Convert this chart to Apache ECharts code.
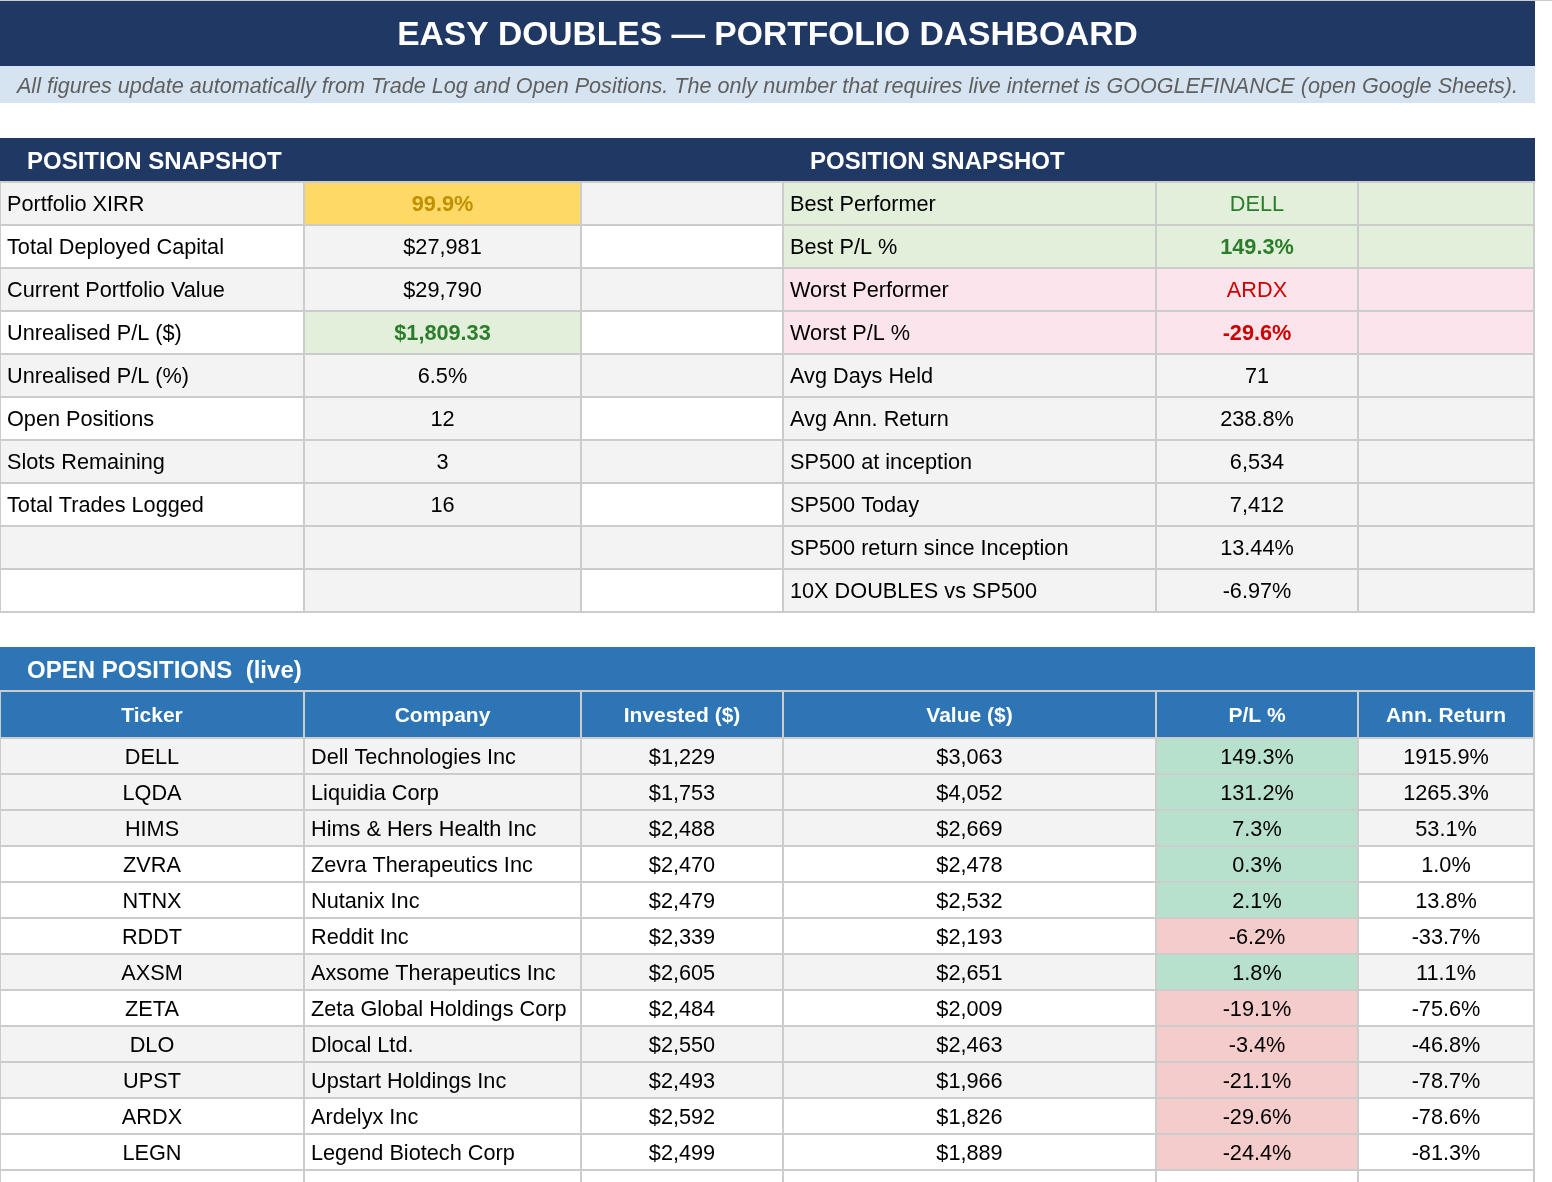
<!DOCTYPE html>
<html>
<head>
<meta charset="utf-8">
<script src="https://cdn.jsdelivr.net/npm/echarts@6/dist/echarts.min.js"></script>
<style>
html,body{margin:0;padding:0;background:#ffffff;}
#chart{width:1552px;height:1182px;}
</style>
</head>
<body>
<div id="chart"></div>
<script>
// ---------------- DATA ----------------
const pageTitle = 'EASY DOUBLES — PORTFOLIO DASHBOARD';
const pageNote = 'All figures update automatically from Trade Log and Open Positions. The only number that requires live internet is GOOGLEFINANCE (open Google Sheets).';
const snapshotTitleLeft = 'POSITION SNAPSHOT';
const snapshotTitleRight = 'POSITION SNAPSHOT';
const leftLabels = ['Portfolio XIRR', 'Total Deployed Capital', 'Current Portfolio Value', 'Unrealised P/L ($)', 'Unrealised P/L (%)', 'Open Positions', 'Slots Remaining', 'Total Trades Logged', '', ''];
const leftValues = ['99.9%', '$27,981', '$29,790', '$1,809.33', '6.5%', '12', '3', '16', '', ''];
const rightLabels = ['Best Performer', 'Best P/L %', 'Worst Performer', 'Worst P/L %', 'Avg Days Held', 'Avg Ann. Return', 'SP500 at inception', 'SP500 Today', 'SP500 return since Inception', '10X DOUBLES vs SP500'];
const rightValues = ['DELL', '149.3%', 'ARDX', '-29.6%', '71', '238.8%', '6,534', '7,412', '13.44%', '-6.97%'];
const openTitle = 'OPEN POSITIONS  (live)';
const openColumns = ['Ticker', 'Company', 'Invested ($)', 'Value ($)', 'P/L %', 'Ann. Return'];
const tickers = ['DELL', 'LQDA', 'HIMS', 'ZVRA', 'NTNX', 'RDDT', 'AXSM', 'ZETA', 'DLO', 'UPST', 'ARDX', 'LEGN'];
const companies = ['Dell Technologies Inc', 'Liquidia Corp', 'Hims & Hers Health Inc', 'Zevra Therapeutics Inc', 'Nutanix Inc', 'Reddit Inc', 'Axsome Therapeutics Inc', 'Zeta Global Holdings Corp', 'Dlocal Ltd.', 'Upstart Holdings Inc', 'Ardelyx Inc', 'Legend Biotech Corp'];
const invested = [1229, 1753, 2488, 2470, 2479, 2339, 2605, 2484, 2550, 2493, 2592, 2499];
const values = [3063, 4052, 2669, 2478, 2532, 2193, 2651, 2009, 2463, 1966, 1826, 1889];
const plPct = [149.3, 131.2, 7.3, 0.3, 2.1, -6.2, 1.8, -19.1, -3.4, -21.1, -29.6, -24.4];
const annReturn = [1915.9, 1265.3, 53.1, 1.0, 13.8, -33.7, 11.1, -75.6, -46.8, -78.7, -78.6, -81.3];

// ---------------- LAYOUT / STYLE ----------------
const W = 1552, H = 1182;
const FONT = '"Liberation Sans", Arial, Helvetica, sans-serif';
const NAVY = '#203864', BLUE = '#2e75b6', GRID = '#cccccc', GREY = '#f3f3f3', WHITE = '#ffffff';
const COLS = [0, 304, 581, 783, 1156, 1358, 1534];
const BAR_R = 1535;
const SNAP_TOP = 182, SNAP_H = 43;
const OPEN_TOP = 738, OPEN_H = 36;
const BODY_SIZE = 21.7;
const TEXT_DY = 2;
const openGreyRows = [true, true, true, false, false, false, true, false, true, true, false, false, false];
const leftValueFill = {0: '#ffd966', 3: '#e2efda'};
const leftValueColor = {0: '#bf9000', 3: '#2b7d2b'};
const rightRowFill = {0: '#e2efda', 1: '#e2efda', 2: '#fce4ec', 3: '#fce4ec'};
const rightValueColor = {0: '#2b7d2b', 1: '#2b7d2b', 2: '#cc0000', 3: '#cc0000'};
const boldValues = {left: [0, 3], right: [1, 3]};

const cells = [];
function cell(x0, y0, x1, y1, o) { cells.push(Object.assign({x0: x0, y0: y0, x1: x1, y1: y1}, o || {})); }
const fmtMoney = v => '$' + v.toLocaleString('en-US');
const fmtPct = v => v.toFixed(1) + '%';

// top hairline
cell(0, 0, W, 1, {fill: GRID});
// title & note
cell(0, 1, BAR_R, 66, {fill: NAVY, text: pageTitle, align: 'center', color: '#ffffff', size: 33.6, weight: 'bold'});
cell(0, 66, BAR_R, 103, {fill: '#d6e3f0', text: pageNote, align: 'center', color: '#5f5f5f', size: 21.6, italic: true});

// snapshot header
cell(0, 138, BAR_R, 182, {fill: NAVY});
cell(27, 138, 300, 182, {text: snapshotTitleLeft, align: 'left', pad: 0, color: '#ffffff', size: 24, weight: 'bold'});
cell(810, 138, 1150, 182, {text: snapshotTitleRight, align: 'left', pad: 0, color: '#ffffff', size: 24, weight: 'bold'});

// snapshot rows
for (let i = 0; i < leftLabels.length; i++) {
  const y0 = SNAP_TOP + SNAP_H * i, y1 = y0 + SNAP_H;
  const alt = i % 2 === 0 ? GREY : WHITE;
  cell(COLS[0], y0, COLS[1], y1, {fill: alt, stroke: true, text: leftLabels[i], align: 'left'});
  cell(COLS[1], y0, COLS[2], y1, {fill: leftValueFill[i] || GREY, stroke: true, text: leftValues[i], align: 'center',
    color: leftValueColor[i] || '#000000', weight: boldValues.left.indexOf(i) >= 0 ? 'bold' : 'normal'});
  cell(COLS[2], y0, COLS[3], y1, {fill: alt, stroke: true});
  const rf = rightRowFill[i] || GREY;
  cell(COLS[3], y0, COLS[4], y1, {fill: rf, stroke: true, text: rightLabels[i], align: 'left'});
  cell(COLS[4], y0, COLS[5], y1, {fill: rf, stroke: true, text: rightValues[i], align: 'center',
    color: rightValueColor[i] || '#000000', weight: boldValues.right.indexOf(i) >= 0 ? 'bold' : 'normal'});
  cell(COLS[5], y0, COLS[6], y1, {fill: rf, stroke: true});
}

// open positions header
cell(0, 647, BAR_R, 691, {fill: BLUE});
cell(27, 647, 400, 691, {text: openTitle, align: 'left', pad: 0, color: '#ffffff', size: 24, weight: 'bold'});
for (let c = 0; c < openColumns.length; c++) {
  cell(COLS[c], 691, COLS[c + 1], OPEN_TOP, {fill: BLUE, stroke: true, text: openColumns[c], align: 'center', color: '#ffffff', size: 21, weight: 'bold'});
}
for (let i = 0; i <= tickers.length; i++) {
  const y0 = OPEN_TOP + OPEN_H * i, y1 = y0 + OPEN_H;
  const bg = openGreyRows[i] ? GREY : WHITE;
  const has = i < tickers.length;
  const row = has ? [tickers[i], companies[i], fmtMoney(invested[i]), fmtMoney(values[i]), fmtPct(plPct[i]), fmtPct(annReturn[i])] : ['', '', '', '', '', ''];
  for (let c = 0; c < 6; c++) {
    let fill = bg;
    if (c === 4 && has) fill = plPct[i] >= 0 ? '#b7e1cd' : '#f4cccc';
    cell(COLS[c], y0, COLS[c + 1], y1, {fill: fill, stroke: true, text: row[c], align: c === 1 ? 'left' : 'center'});
  }
}

// ---------------- RENDER ----------------
const chart = echarts.init(document.getElementById('chart'), null, {renderer: 'canvas'});
const seriesData = cells.map(c => [c.x0, c.y0, c.x1, c.y1]);

function rectOf(api, c) {
  const p0 = api.coord([c.x0, c.y0]);
  const p1 = api.coord([c.x1, c.y1]);
  return {x: Math.min(p0[0], p1[0]), y: Math.min(p0[1], p1[1]), width: Math.abs(p1[0] - p0[0]), height: Math.abs(p1[1] - p0[1])};
}

chart.setOption({
  animation: false,
  backgroundColor: '#ffffff',
  grid: {left: 0, right: 0, top: 0, bottom: 0, containLabel: false},
  xAxis: {type: 'value', min: 0, max: W, show: false},
  yAxis: {type: 'value', min: 0, max: H, inverse: true, show: false},
  series: [
    {
      type: 'custom', clip: false, silent: true, z: 1,
      data: seriesData,
      encode: {x: [0, 2], y: [1, 3]},
      renderItem: function (params, api) {
        const c = cells[params.dataIndex];
        if (!c.fill) return {type: 'group', children: []};
        return {type: 'rect', shape: rectOf(api, c), style: {fill: c.fill}};
      }
    },
    {
      type: 'custom', clip: false, silent: true, z: 2,
      data: seriesData,
      encode: {x: [0, 2], y: [1, 3]},
      renderItem: function (params, api) {
        const c = cells[params.dataIndex];
        const r = rectOf(api, c);
        const children = [];
        if (c.stroke) {
          children.push({type: 'rect', shape: r, style: {fill: null, stroke: GRID, lineWidth: 2}});
        }
        if (c.text) {
          const pad = c.pad === undefined ? 7 : c.pad;
          const tx = c.align === 'left' ? r.x + pad : r.x + r.width / 2;
          children.push({
            type: 'text',
            style: {
              x: tx, y: r.y + r.height / 2 + TEXT_DY,
              text: c.text,
              fill: c.color || '#000000',
              fontSize: c.size || BODY_SIZE,
              fontWeight: c.weight || 'normal',
              fontStyle: c.italic ? 'italic' : 'normal',
              fontFamily: FONT,
              align: c.align === 'left' ? 'left' : 'center',
              verticalAlign: 'middle'
            }
          });
        }
        return {type: 'group', children: children};
      }
    }
  ]
});
</script>
</body>
</html>
